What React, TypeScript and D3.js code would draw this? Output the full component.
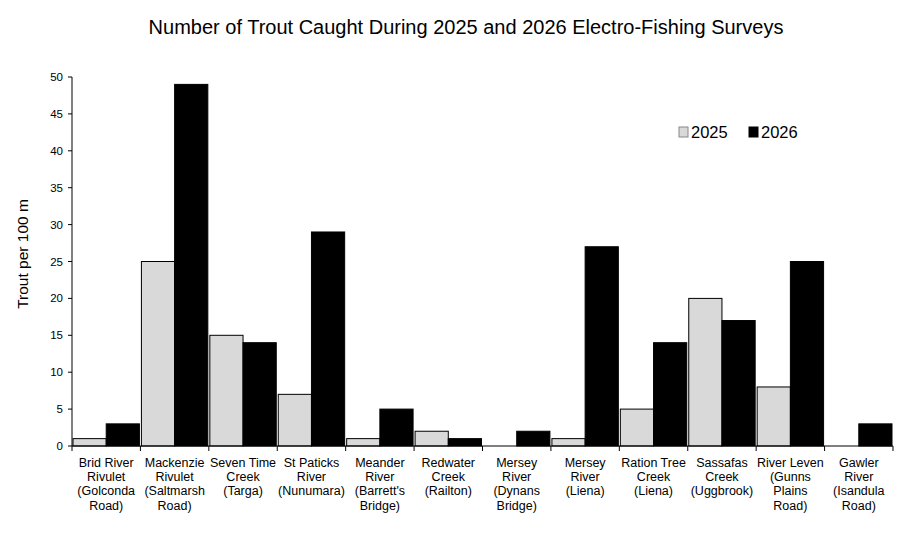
import React from "react";
import * as d3 from "d3";

const categories: string[][] = [
  ["Brid River", "Rivulet", "(Golconda", "Road)"],
  ["Mackenzie", "Rivulet", "(Saltmarsh", "Road)"],
  ["Seven Time", "Creek", "(Targa)"],
  ["St Paticks", "River", "(Nunumara)"],
  ["Meander", "River", "(Barrett's", "Bridge)"],
  ["Redwater", "Creek", "(Railton)"],
  ["Mersey", "River", "(Dynans", "Bridge)"],
  ["Mersey", "River", "(Liena)"],
  ["Ration Tree", "Creek", "(Liena)"],
  ["Sassafas", "Creek", "(Uggbrook)"],
  ["River Leven", "(Gunns", "Plains", "Road)"],
  ["Gawler", "River", "(Isandula", "Road)"],
];
const series2025: number[] = [1, 25, 15, 7, 1, 2, 0, 1, 5, 20, 8, 0];
const series2026: number[] = [3, 49, 14, 29, 5, 1, 2, 27, 14, 17, 25, 3];
const yTicks: number[] = [0, 5, 10, 15, 20, 25, 30, 35, 40, 45, 50];
const seriesNames = ["2025", "2026"];
const colors = ["#d9d9d9", "#000000"];

export default function App() {
  const W = 900, H = 548;
  const left = 72, right = 893, top = 77, bottom = 446;
  const x = d3.scaleBand<number>().domain(d3.range(categories.length)).range([left, right]).padding(0);
  const y = d3.scaleLinear().domain([0, 50]).range([bottom, top]);
  const bw = x.bandwidth();
  const font = "Arial, 'Liberation Sans', sans-serif";
  return (
    <svg width={W} height={H} style={{ position: "absolute", left: 0, top: 0, background: "#fff" }} fontFamily={font}>
      <text x={466} y={34} textAnchor="middle" fontSize={20} fill="#000">
        Number of Trout Caught During 2025 and 2026 Electro-Fishing Surveys
      </text>
      <text transform={`translate(28,254) rotate(-90)`} textAnchor="middle" fontSize={15.5} fill="#000">
        Trout per 100 m
      </text>
      {/* bars */}
      {categories.map((_, i) => {
        const x0 = x(i)!;
        return [series2025, series2026].map((s, j) => {
          const v = s[i];
          if (v <= 0) return null;
          const bx = x0 + 1 + j * (bw - 2) / 2;
          return (
            <rect key={`${i}-${j}`} x={bx} y={y(v)} width={(bw - 2) / 2} height={bottom - y(v)}
              fill={colors[j]} stroke="#000" strokeWidth={1} />
          );
        });
      })}
      {/* y axis */}
      <line x1={left} x2={left} y1={top} y2={bottom} stroke="#000" />
      {yTicks.map((t) => (
        <g key={t}>
          <line x1={left - 4} x2={left} y1={y(t)} y2={y(t)} stroke="#000" />
          <text x={left - 9} y={y(t)} dy="0.35em" textAnchor="end" fontSize={11.5} fill="#000">{t}</text>
        </g>
      ))}
      {/* x axis */}
      <line x1={left} x2={right} y1={bottom} y2={bottom} stroke="#000" />
      {d3.range(categories.length + 1).map((i) => {
        const xx = i < categories.length ? x(i)! : right;
        return <line key={i} x1={xx} x2={xx} y1={bottom} y2={bottom + 5} stroke="#000" />;
      })}
      {categories.map((lines, i) => (
        <text key={i} x={x(i)! + bw / 2} y={bottom + 21} textAnchor="middle" fontSize={12.5} fill="#000">
          {lines.map((l, k) => (
            <tspan key={k} x={x(i)! + bw / 2} dy={k === 0 ? 0 : 14.2}>{l}</tspan>
          ))}
        </text>
      ))}
      {/* legend */}
      {seriesNames.map((n, j) => {
        const lx = 679 + j * 70;
        return (
          <g key={n}>
            <rect x={lx} y={127} width={9} height={10} fill={colors[j]} stroke={j === 0 ? "#888" : "#000"} />
            <text x={lx + 12} y={138} fontSize={16.5} fill="#000">{n}</text>
          </g>
        );
      })}
    </svg>
  );
}
